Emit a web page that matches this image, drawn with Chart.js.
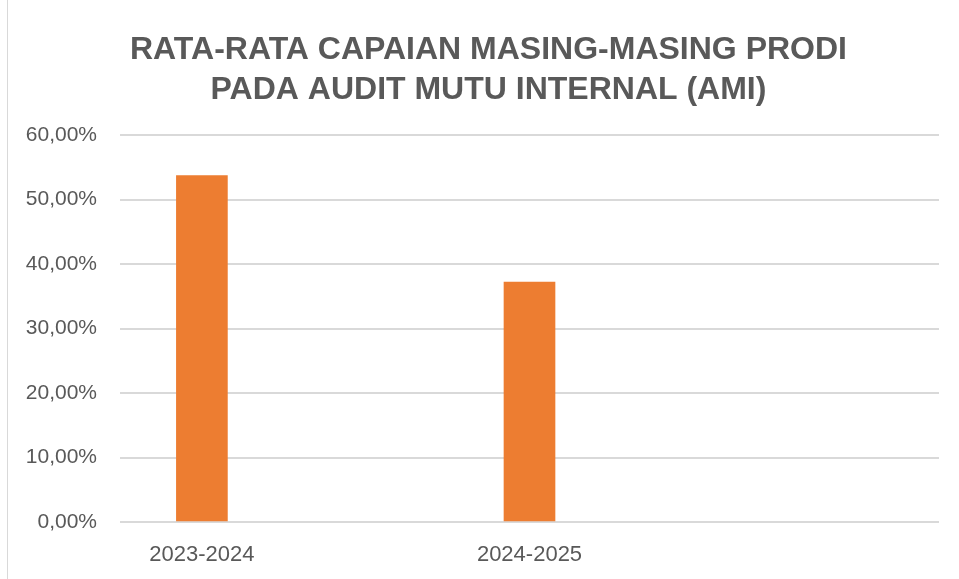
<!DOCTYPE html>
<html>
<head>
<meta charset="utf-8">
<script src="https://cdn.jsdelivr.net/npm/chart.js@4"></script>
<style>
  html, body { margin: 0; padding: 0; background: #ffffff; }
  #wrap { position: relative; width: 959px; height: 579px; }
  #edge { position: absolute; left: 7px; top: 0; width: 1px; height: 579px; background: #d9d9d9; }
</style>
</head>
<body>
<div id="wrap">
  <div id="edge"></div>
  <canvas id="ami_chart" width="959" height="579"></canvas>
</div>
<script>
var categories = ['2023-2024', '2024-2025'];
var capaian    = [53.7, 37.2];
var yTicks     = [0, 10, 20, 30, 40, 50, 60];
var titleLines = ['RATA-RATA CAPAIAN MASING-MASING PRODI', 'PADA AUDIT MUTU INTERNAL (AMI)'];

var textGray = '#595959';
var gridGray = '#d9d9d9';

const data = {
    datasets: [
        {
            label: 'Capaian',
            data: categories.map(function (c, i) { return { x: i, y: capaian[i] }; }),
            backgroundColor: '#ED7D31',
            borderWidth: 0,
            barThickness: 51
        }
    ]
};

// the left padding only serves to move the title right; widen the y axis box
// back to the canvas edge so its labels are not clipped
const unclipY = {
    id: 'unclipY',
    afterLayout: function (chart) {
        chart.scales.y.left = 0;
    }
};

const config = {
    type: 'bar',
    data: data,
    plugins: [unclipY],
    options: {
        responsive: false,
        animation: false,
        layout: { padding: { left: 38, right: 20, top: 0, bottom: 13 } },
        plugins: {
            legend: { display: false },
            tooltip: { enabled: false },
            title: {
                display: true,
                text: titleLines,
                color: textGray,
                font: { family: "'Liberation Sans', Arial, sans-serif", size: 32, weight: 'bold', lineHeight: 1.25 },
                padding: { top: 30, bottom: 25 }
            }
        },
        scales: {
            x: {
                type: 'linear',
                offset: false,
                min: -0.25,
                max: 2.25,
                grid: { display: false },
                border: { display: false },
                afterBuildTicks: function (axis) {
                    axis.ticks = categories.map(function (c, i) { return { value: i }; });
                },
                afterFit: function (axis) { axis.height = 44; },
                ticks: {
                    autoSkip: false,
                    maxRotation: 0,
                    padding: 12,
                    color: textGray,
                    font: { family: "'Liberation Sans', Arial, sans-serif", size: 22 },
                    callback: function (v) { return categories[v]; }
                }
            },
            y: {
                min: 0,
                max: 60,
                afterBuildTicks: function (axis) {
                    axis.ticks = yTicks.map(function (v) { return { value: v }; });
                },
                afterFit: function (axis) { axis.width = 82; },
                grid: { color: gridGray, lineWidth: 2, drawTicks: false },
                border: { display: false },
                ticks: {
                    padding: 23,
                    color: textGray,
                    font: { family: "'Liberation Sans', Arial, sans-serif", size: 21 },
                    callback: function (v) { return v.toFixed(2).replace('.', ',') + '%'; }
                }
            }
        }
    }
};

var myChart = new Chart(document.getElementById('ami_chart'), config);
</script>
</body>
</html>
